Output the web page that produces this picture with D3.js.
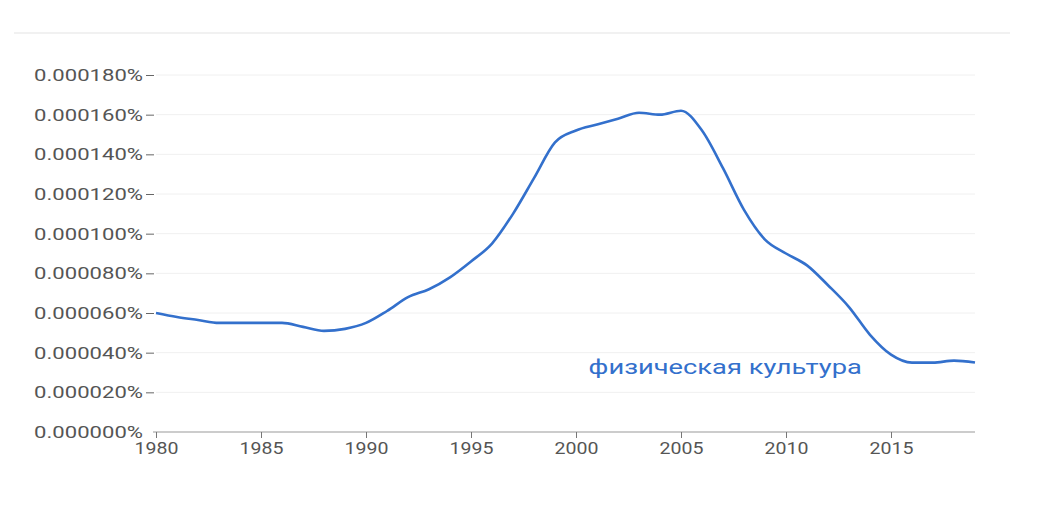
<!DOCTYPE html>
<html>
<head>
<meta charset="utf-8">
<script src="https://cdn.jsdelivr.net/npm/d3@7"></script>
<style>
  body { margin: 0; background: #fff; }
  text { font-family: Roboto, Arial, sans-serif; }
</style>
</head>
<body>
<div id="chart"></div>
<script>
'use strict';

var years = d3.range(1980, 2020);
// values in units of 1e-6 %
var values = [60, 58, 56.5, 55, 55, 55, 55, 53, 51, 52,
              55, 61, 68, 72, 78, 86, 95, 110, 128, 146,
              152, 155, 158, 161, 160, 162, 152, 133, 112, 97,
              90, 84, 74, 63, 49, 39, 35, 35, 36, 35];
var yTicks = [0, 20, 40, 60, 80, 100, 120, 140, 160, 180];
var xTicks = [1980, 1985, 1990, 1995, 2000, 2005, 2010, 2015];
var seriesLabel = "физическая культура";

var svgWidth = 1048, svgHeight = 510;
var margin = { top: 75, left: 156, right: 73, bottom: 78 };
var width = 975 - margin.left, height = 432 - margin.top;
var sx = 1.3; // reference text is horizontally stretched

var svg = d3.select("#chart").append("svg")
  .attr("width", svgWidth)
  .attr("height", svgHeight);

// top divider line
svg.append("line")
  .attr("x1", 14).attr("x2", 1010)
  .attr("y1", 33).attr("y2", 33)
  .attr("stroke", "#e3e3e3");

var main = svg.append("g")
  .attr("transform", "translate(" + margin.left + "," + margin.top + ")");

var x = d3.scaleLinear().domain([1980, 2019]).range([0, width]);
var y = d3.scaleLinear().domain([0, 180]).range([height, 0]);

// gridlines
main.selectAll(".grid").data(yTicks.slice(1))
  .enter().append("line")
  .attr("x1", 0).attr("x2", width)
  .attr("y1", function(d) { return y(d); })
  .attr("y2", function(d) { return y(d); })
  .attr("stroke", "#f0f0f0");

// y axis labels with dash ticks
var yAxisG = main.append("g")
  .call(d3.axisLeft(y).tickValues(yTicks).tickSize(0)
    .tickFormat(function(d) { return (d / 1e6).toFixed(6) + "%"; }));
yAxisG.select(".domain").remove();
yAxisG.selectAll("text")
  .attr("fill", "#555").attr("font-size", 17)
  .attr("x", -13 / sx)
  .attr("transform", "scale(" + sx + ",1)");
yAxisG.selectAll(".tick").filter(function(d) { return d > 0; })
  .append("line").attr("x1", -10).attr("x2", -2).attr("stroke", "#666");

// x axis
var xAxisG = main.append("g")
  .attr("transform", "translate(0," + height + ")")
  .call(d3.axisBottom(x).tickValues(xTicks).tickSize(6).tickPadding(4)
    .tickFormat(d3.format("d")));
xAxisG.select(".domain").attr("stroke", "#999").attr("d", "M-3,0H" + width);
xAxisG.selectAll(".tick line").attr("stroke", "#777");
xAxisG.selectAll("text").attr("fill", "#555").attr("font-size", 17)
  .attr("transform", "scale(" + 1.15 + ",1)");

// data line
main.append("path")
  .datum(values)
  .attr("fill", "none")
  .attr("stroke", "#3370cc")
  .attr("stroke-width", 2.6)
  .attr("d", d3.line()
    .x(function(d, i) { return x(years[i]); })
    .y(function(d) { return y(d); })
    .curve(d3.curveMonotoneX));

// series label
main.append("text")
  .attr("x", x(2000.6) / sx)
  .attr("y", y(29))
  .attr("transform", "scale(" + sx + ",1)")
  .attr("fill", "#3370cc")
  .attr("font-size", 21)
  .text(seriesLabel);
</script>
</body>
</html>
